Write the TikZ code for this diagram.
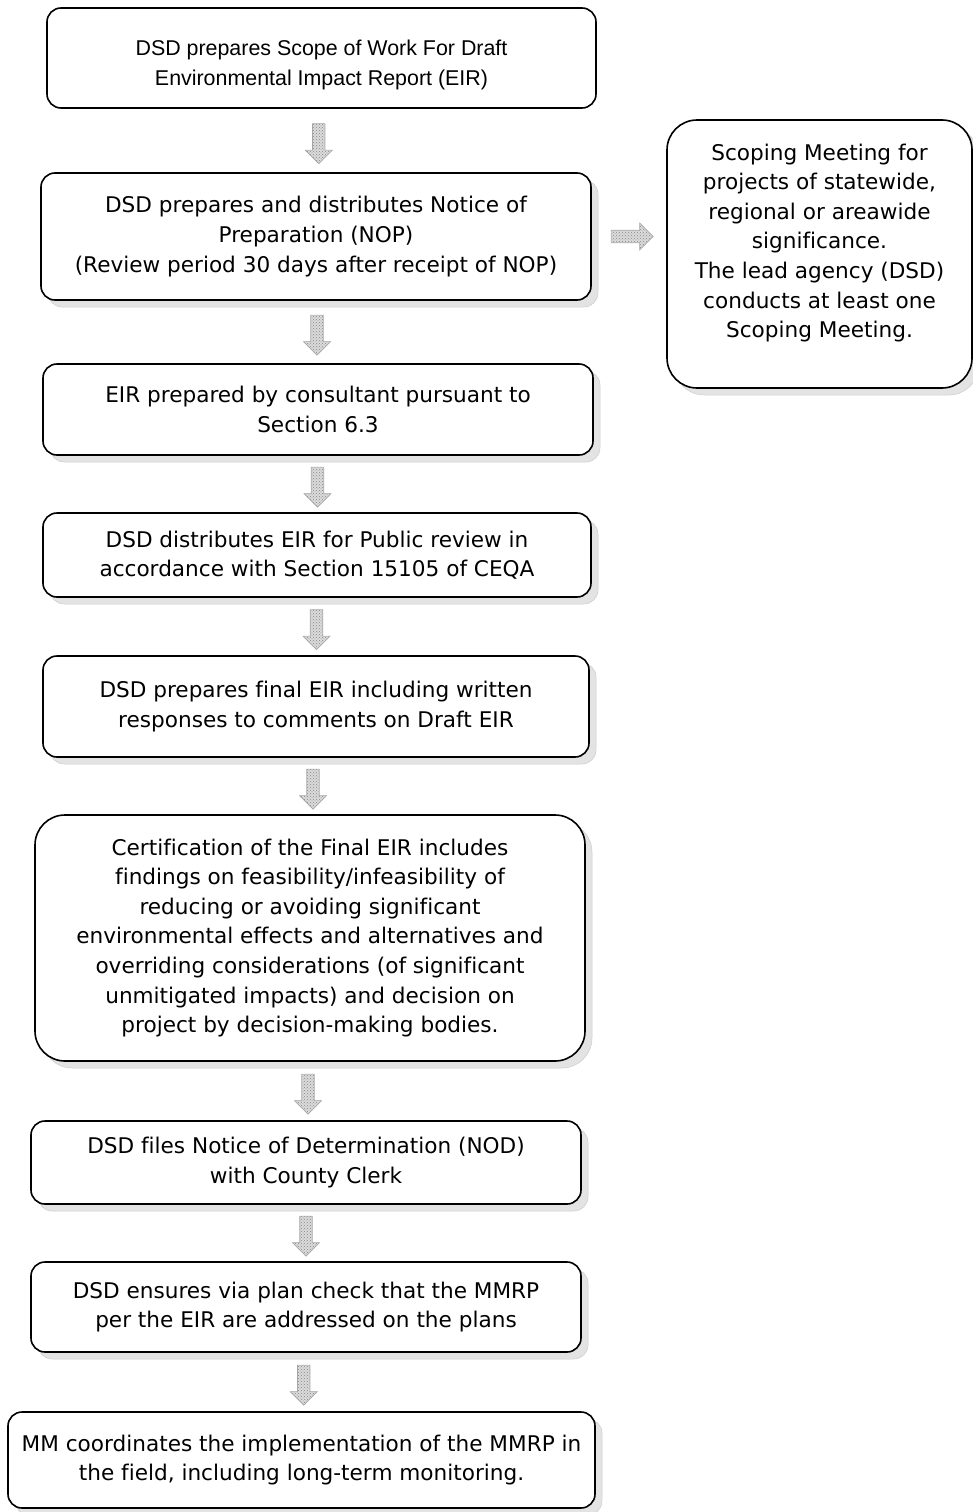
\documentclass[tikz,border=0pt]{standalone}
\usepackage{fontspec}
\setmainfont[Ligatures=NoCommon]{DejaVu Sans}
\newfontfamily\arialf{Liberation Sans}
\usetikzlibrary{shapes.arrows,shadows,patterns}
\begin{document}
\begin{tikzpicture}[x=1pt,y=-1pt,
  plainbox/.style={draw=black, line width=1.6pt, rounded corners=14pt, fill=white,
    align=center, inner sep=0pt, font=\fontsize{21.6}{29.6}\selectfont},
  box/.style={plainbox,
    general shadow={shadow xshift=7pt, shadow yshift=-7pt, fill=gray!22, draw=gray!40, line width=0.5pt}},
  bigbox/.style={box, rounded corners=30pt},
  arrfill/.style={draw=gray!70, line width=0.6pt, preaction={fill=gray!28},
    pattern=crosshatch dots, pattern color=gray!95},
  downarr/.style={single arrow, shape border rotate=270, arrfill,
    minimum width=27pt, minimum height=40pt, single arrow head extend=5pt, inner sep=4pt},
  rightarr/.style={single arrow, arrfill,
    minimum width=27pt, minimum height=42pt, single arrow head extend=5pt, inner sep=4pt}
]
\useasboundingbox (0,0) rectangle (972,1512);
\node[plainbox, minimum width=549pt, minimum height=100pt, font=\arialf\fontsize{21.4}{30}\selectfont] (b1) at (321.5,58)
  {\strut\\[-22pt]DSD prepares Scope of Work For Draft\\Environmental Impact Report (EIR)};
\node[box, minimum width=550pt, minimum height=127pt] (b2) at (316,236.5)
  {DSD prepares and distributes Notice of\\Preparation (NOP)\\(Review period 30 days after receipt of NOP)};
\node[bigbox, minimum width=305pt, minimum height=268pt] (s) at (819.5,254)
  {Scoping Meeting for\\projects of statewide,\\regional or areawide\\significance.\\The lead agency (DSD)\\conducts at least one\\Scoping Meeting.\\[-12pt]\strut};
\node[box, minimum width=550pt, minimum height=91pt] (b3) at (318,409.5)
  {EIR prepared by consultant pursuant to\\Section 6.3};
\node[box, minimum width=548pt, minimum height=84pt] (b4) at (317,555)
  {DSD distributes EIR for Public review in\\accordance with Section 15105 of CEQA};
\node[box, minimum width=546pt, minimum height=101pt] (b5) at (316,706.5)
  {DSD prepares final EIR including written\\responses to comments on Draft EIR};
\node[bigbox, minimum width=550pt, minimum height=246pt] (b6) at (310,938)
  {Certification of the Final EIR includes\\findings on feasibility/infeasibility of\\reducing or avoiding significant\\environmental effects and alternatives and\\overriding considerations (of significant\\unmitigated impacts) and decision on\\project by decision-making bodies.};
\node[box, minimum width=550pt, minimum height=83pt] (b7) at (306,1162.5)
  {DSD files Notice of Determination (NOD)\\with County Clerk};
\node[box, minimum width=550pt, minimum height=90pt] (b8) at (306,1307)
  {DSD ensures via plan check that the MMRP\\per the EIR are addressed on the plans};
\node[box, minimum width=587pt, minimum height=96pt] (b9) at (301.5,1460)
  {MM coordinates the implementation of the MMRP in\\the field, including long-term monitoring.};
\path (b1.south) -- (b2.north) node[midway, downarr] (a1) {};
\path (b2.south) -- (b3.north) node[midway, downarr] (a2) {};
\path (b3.south) -- (b4.north) node[midway, downarr] (a3) {};
\path (b4.south) -- (b5.north) node[midway, downarr] (a4) {};
\path (b5.south) -- (b6.north) node[midway, downarr] (a5) {};
\path (b6.south) -- (b7.north) node[midway, downarr] (a6) {};
\path (b7.south) -- (b8.north) node[midway, downarr] (a7) {};
\path (b8.south) -- (b9.north) node[midway, downarr] (a8) {};
\path (b2.east) -- (s.west |- b2.east) node[midway, rightarr] (ar) {};
\end{tikzpicture}
\end{document}
